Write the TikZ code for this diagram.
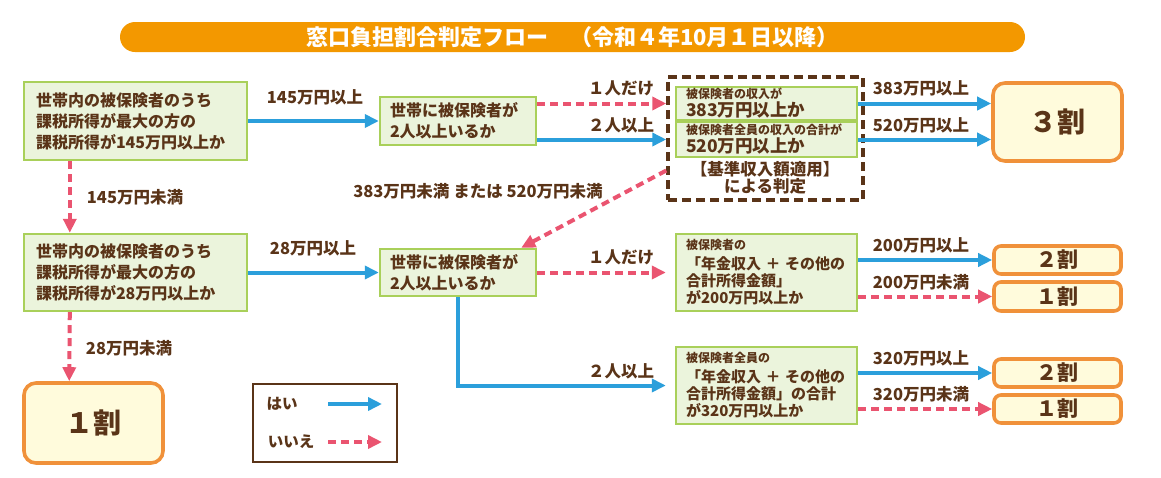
\documentclass[tikz,border=0pt]{standalone}
\usepackage{fontspec}
\setmainfont{Noto Sans CJK JP}
\usepackage{tikz}
\usetikzlibrary{arrows.meta,positioning,calc}
\usepackage{xcolor}
\definecolor{deepbrown}{HTML}{5A3418}
\definecolor{titleorange}{HTML}{F39800}
\definecolor{leafgreen}{HTML}{A9D05A}
\definecolor{palegreen}{HTML}{EBF4DC}
\definecolor{flowblue}{HTML}{2B9FDB}
\definecolor{flowpink}{HTML}{EA5470}
\definecolor{resultorange}{HTML}{F0913A}
\definecolor{paleyellow}{HTML}{FFFBDC}

\begin{document}
\begin{tikzpicture}[
    x=1pt, y=-1pt,
    cond/.style={
      draw=leafgreen, line width=2.4pt, fill=palegreen,
      text=deepbrown, font=\fontsize{16}{21}\selectfont\bfseries,
      align=left, inner ysep=0pt,
    },
    result/.style={
      draw=resultorange, line width=3.6pt, fill=paleyellow,
      rounded corners=#1, text=deepbrown, inner sep=0pt,
    },
    yesflow/.style={draw=flowblue, line width=4pt, -{Triangle[length=14pt,width=13pt]}},
    noflow/.style={draw=flowpink, line width=4pt, dash pattern=on 8pt off 5pt,
      -{Triangle[length=14pt,width=13pt]}},
    lbl/.style={text=deepbrown, font=\fontsize{16.5}{16.5}\selectfont\bfseries, inner sep=0pt},
  ]
  \useasboundingbox (0,0) rectangle (1161,477);

  % =================== Title bar ===================
  \node[fill=titleorange, rounded corners=15pt, minimum width=905pt, minimum height=30pt,
        text=white, font=\fontsize{22}{22}\selectfont\bfseries] (title) at (572.5,37)
    {窓口負担割合判定フロー　（令和４年10月１日以降）};

  % =================== Left column ===================
  \node[cond, text width=199pt, inner xsep=12pt, minimum height=78pt] (a1) at (135.5,121)
    {世帯内の被保険者のうち\\課税所得が最大の方の\\課税所得が145万円以上か};
  \node[cond, text width=199pt, inner xsep=12pt, minimum height=77pt] (d1) at (135.5,272.5)
    {世帯内の被保険者のうち\\課税所得が最大の方の\\課税所得が28万円以上か};
  \node[result=12pt, minimum width=139pt, minimum height=80pt,
        font=\fontsize{28}{28}\selectfont\bfseries] (r1big) at (93.5,423) {１割};

  % =================== Middle column ===================
  \node[cond, text width=136pt, inner xsep=10pt, minimum height=48pt] (b1) at (458,121)
    {世帯に被保険者が\\2人以上いるか};
  \node[cond, text width=136pt, inner xsep=10pt, minimum height=47pt] (e1) at (458,272.5)
    {世帯に被保険者が\\2人以上いるか};

  % =================== Base income judgement ===================
  \node[draw=deepbrown, line width=3.5pt, dash pattern=on 9pt off 5pt,
        minimum width=195pt, minimum height=123pt] (judge) at (765.5,138.5) {};
  \node[cond, text width=161pt, inner xsep=10pt, minimum height=33pt,
        font=\fontsize{17.5}{18}\selectfont\bfseries] (c1) at (766.5,103.5)
    {{\fontsize{12}{12}\selectfont 被保険者の収入が}\\383万円以上か};
  \node[cond, text width=161pt, inner xsep=10pt, minimum height=35pt,
        font=\fontsize{17.5}{18}\selectfont\bfseries] (c2) at (766.5,139.5)
    {{\fontsize{12}{12}\selectfont 被保険者全員の収入の合計が}\\520万円以上か};
  \node[lbl, align=center, font=\fontsize{16.5}{17}\selectfont\bfseries] (judgetxt) at (765,178)
    {【基準収入額適用】\\による判定};

  % =================== Pension income judgement ===================
  \node[cond, text width=161pt, inner xsep=10pt, minimum height=77pt,
        font=\fontsize{15}{17}\selectfont\bfseries] (f1) at (766.5,272.5)
    {{\fontsize{12}{12}\selectfont 被保険者の}\\[3pt]\mbox{「年金収入\hspace{0.3em}＋\hspace{0.3em}その他の}\\合計所得金額」\\が200万円以上か};
  \node[cond, text width=161pt, inner xsep=10pt, minimum height=77pt,
        font=\fontsize{15}{17}\selectfont\bfseries] (g1) at (766.5,385.5)
    {{\fontsize{12}{12}\selectfont 被保険者全員の}\\[3pt]\mbox{「年金収入\hspace{0.3em}＋\hspace{0.3em}その他の}\\合計所得金額」の合計\\が320万円以上か};

  % =================== Results ===================
  \node[result=12pt, minimum width=129pt, minimum height=78pt,
        font=\fontsize{28}{28}\selectfont\bfseries] (r3) at (1057.5,122) {３割};
  \node[result=7pt, minimum width=127pt, minimum height=28pt,
        font=\fontsize{21}{21}\selectfont\bfseries] (r2a) at (1057.5,260) {２割};
  \node[result=7pt, minimum width=127pt, minimum height=29pt,
        font=\fontsize{21}{21}\selectfont\bfseries] (r1a) at (1057.5,296.5) {１割};
  \node[result=7pt, minimum width=127pt, minimum height=28pt,
        font=\fontsize{21}{21}\selectfont\bfseries] (r2b) at (1057.5,373) {２割};
  \node[result=7pt, minimum width=127pt, minimum height=28pt,
        font=\fontsize{21}{21}\selectfont\bfseries] (r1b) at (1057.5,409) {１割};

  % =================== Connectors ===================
  \draw[yesflow] (a1) -- (b1);
  \draw[noflow] ([xshift=47pt]a1.south west) -- ([xshift=47pt]d1.north west);
  \draw[noflow] (b1.east |- c1.west) -- (judge.west |- c1.west);
  \draw[yesflow] (b1.east |- c2.west) -- (judge.west |- c2.west);
  \draw[yesflow] (c1.east) -- (c1.east -| r3.west);
  \draw[yesflow] (c2.east) -- (c2.east -| r3.west);
  \draw[noflow] ([yshift=-32pt]judge.west) -- ([xshift=-16pt]e1.north east);
  \draw[yesflow] (d1) -- (e1);
  \draw[noflow] ([xshift=47pt]d1.south west) -- ([xshift=47pt]r1big.north west);
  \draw[noflow, shorten >=9pt] (e1) -- (f1);
  \draw[yesflow, shorten >=9pt] (e1) |- (g1);
  \draw[yesflow] (f1.east |- r2a) -- (r2a);
  \draw[noflow] (f1.east |- r1a) -- (r1a);
  \draw[yesflow] (g1.east |- r2b) -- (r2b);
  \draw[noflow] (g1.east |- r1b) -- (r1b);

  % Labels
  \node[lbl] (l145up) at (315,97) {145万円以上};
  \node[lbl] (l145down) at (135,197) {145万円未満};
  \node[lbl] (l28up) at (313,248) {28万円以上};
  \node[lbl] (l28down) at (129,348) {28万円未満};
  \node[lbl] (lone1) at (621,88) {１人だけ};
  \node[lbl] (ltwo1) at (621,125) {２人以上};
  \node[lbl] (lunder) at (478,191) {383万円未満 または 520万円未満};
  \node[lbl] (lone2) at (621,257) {１人だけ};
  \node[lbl] (ltwo2) at (621,371) {２人以上};
  \node[lbl] (l383) at (921,88) {383万円以上};
  \node[lbl] (l520) at (921,125) {520万円以上};
  \node[lbl] (l200up) at (921,245) {200万円以上};
  \node[lbl] (l200down) at (921,282) {200万円未満};
  \node[lbl] (l320up) at (921,358) {320万円以上};
  \node[lbl] (l320down) at (921,394) {320万円未満};

  % =================== Legend ===================
  \node[draw=deepbrown, line width=1.2pt, minimum width=144pt, minimum height=78pt] (legend) at (325,423) {};
  \node[lbl, font=\fontsize{15.5}{15.5}\selectfont\bfseries] (legyes) at (282,404) {はい};
  \node[lbl, font=\fontsize{15.5}{15.5}\selectfont\bfseries] (legno) at (291,442) {いいえ};
  \coordinate (yesstart) at (328,404);
  \coordinate (yesend) at (382,404);
  \coordinate (nostart) at (328,442);
  \coordinate (noend) at (382,442);
  \draw[yesflow] (yesstart) -- (yesend);
  \draw[noflow] (nostart) -- (noend);

\end{tikzpicture}
\end{document}
